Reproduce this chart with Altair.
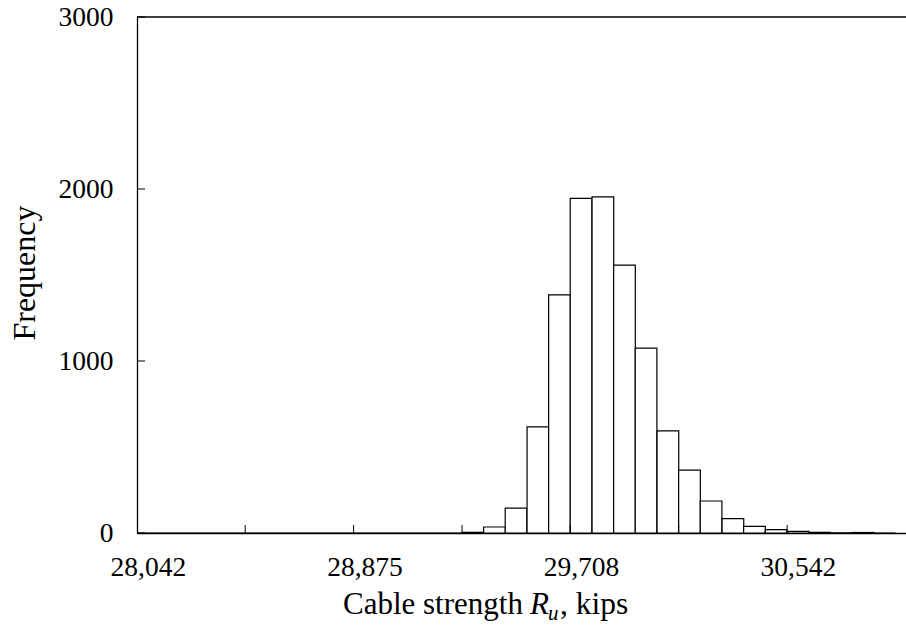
import altair as alt
import pandas as pd

# ---- data ----
bin_centers = [28042, 28125, 28208, 28292, 28375, 28458, 28542, 28625, 28708, 28792,
               28875, 28958, 29042, 29125, 29208, 29292, 29375, 29458, 29542, 29625,
               29708, 29792, 29875, 29958, 30042, 30125, 30208, 30292, 30375, 30458,
               30542, 30625, 30708, 30792, 30875]
frequency = [0, 0, 0, 0, 0, 0, 0, 0, 0, 0,
             0, 0, 0, 0, 0, 4, 35, 145, 617, 1384,
             1946, 1954, 1557, 1075, 594, 365, 186, 84, 39, 20,
             10, 4, 1, 3, 0]
BIN_W = 83.33
x_labels = [28042, 28875, 29708, 30542]
y_ticks = [0, 1000, 2000, 3000]

W, H = 769, 516
FONT = "Liberation Serif"
X_DOMAIN = [28000.33, 30957.6]

df = pd.DataFrame({"center": bin_centers, "freq": frequency})
df["x0"] = df["center"] - BIN_W / 2
df["x1"] = df["center"] + BIN_W / 2
df["base"] = 0

tick_edges = [c - BIN_W / 2 for c in bin_centers[5::5]]
xt = pd.DataFrame({"x0": tick_edges})
yt = pd.DataFrame({"freq": y_ticks})

x_axis = alt.Axis(values=x_labels, format=",d", title=None, grid=False, ticks=False,
                  tickSize=0, labelFont=FONT, labelFontSize=27.5, labelColor="black",
                  labelBaseline="alphabetic", labelPadding=42, labelFlush=False,
                  labelOverlap=False, domainColor="black", domainWidth=1.3)
y_axis = alt.Axis(values=y_ticks, format="d", title=None, grid=False, ticks=False,
                  tickSize=0, labelFont=FONT, labelFontSize=27.5, labelColor="black",
                  labelBaseline="middle", labelPadding=24, labelFlush=False,
                  labelOverlap=False, domainColor="black", domainWidth=1.3)

x_scale = alt.Scale(domain=X_DOMAIN, nice=False, zero=False)
y_scale = alt.Scale(domain=[0, 3000], nice=False)

bars = alt.Chart(df).mark_bar(fill="white", stroke="black", strokeWidth=1.2).encode(
    x=alt.X("x0:Q", scale=x_scale, axis=x_axis),
    x2="x1:Q",
    y=alt.Y("freq:Q", scale=y_scale, axis=y_axis),
    y2="base:Q",
)

xticks = alt.Chart(xt).mark_rule(color="black", strokeWidth=1).encode(
    x=alt.X("x0:Q", scale=x_scale, axis=x_axis),
    y=alt.value(H),
    y2=alt.value(H - 8),
)

yticks = alt.Chart(yt).mark_rule(color="black", strokeWidth=1).encode(
    y=alt.Y("freq:Q", scale=y_scale, axis=y_axis),
    x=alt.value(0),
    x2=alt.value(8),
)

one = pd.DataFrame({"a": [0]})
top_border = alt.Chart(one).mark_rule(color="black", strokeWidth=1.3).encode(
    x=alt.value(0), x2=alt.value(W), y=alt.value(0)
)

def txt(text, x, y, size=31, style="normal", **kw):
    return alt.Chart(one).mark_text(text=text, font=FONT, fontSize=size, fontStyle=style,
                                    color="black", align="left", baseline="alphabetic",
                                    **kw).encode(x=alt.value(x), y=alt.value(y))

t1 = txt("Cable strength", 206, 597)
t2 = txt("R", 393, 597, style="italic")
t3 = txt("u", 411, 603, size=21, style="italic")
t4 = txt(", kips", 423, 597, size=31.5)

ytitle = alt.Chart(one).mark_text(text="Frequency", font=FONT, fontSize=32, color="black",
                                  align="center", baseline="alphabetic", angle=270).encode(
    x=alt.value(-102.5), y=alt.value(256)
)

chart = alt.layer(bars, xticks, yticks, top_border, t1, t2, t3, t4, ytitle).properties(
    width=W, height=H,
    autosize=alt.AutoSizeParams(type="none"),
    padding={"left": 137, "top": 17, "right": 0, "bottom": 97},
    background="white",
).configure_view(stroke=None)

chart.save("out.html", embed_options={"renderer": "svg", "actions": False})
